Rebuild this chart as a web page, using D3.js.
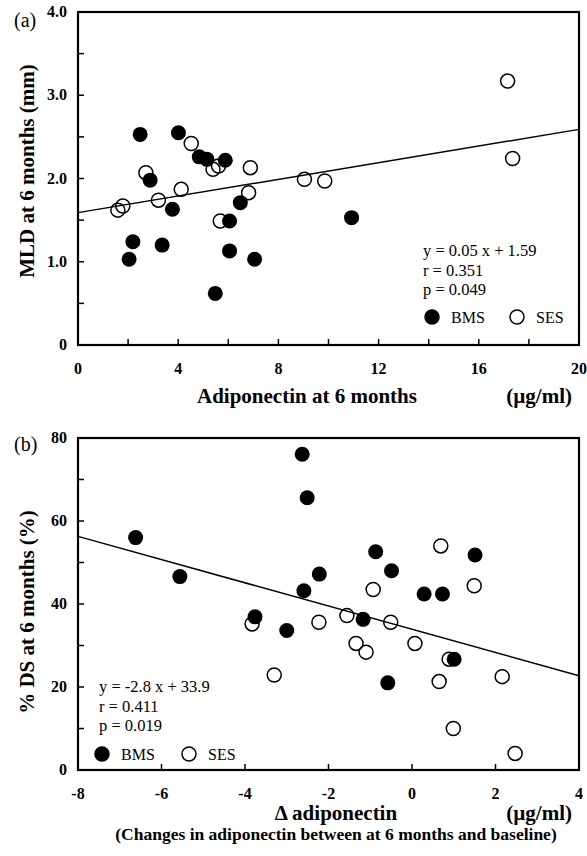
<!DOCTYPE html>
<html>
<head>
<meta charset="utf-8">
<script src="https://cdn.jsdelivr.net/npm/d3@7"></script>
<style>
  body { margin: 0; background: #fff; }
  svg { font-family: "Liberation Serif", "DejaVu Serif", serif; }
</style>
</head>
<body>
<div id="chart"></div>
<script>
// panel (a): adiponectin at 6 months vs MLD
var mldBms = [[2.48,2.53],[4.01,2.55],[2.88,1.98],[4.84,2.26],[5.15,2.23],[5.88,2.22],
  [3.77,1.63],[6.48,1.71],[6.05,1.49],[2.19,1.24],[2.04,1.03],[3.36,1.20],
  [6.05,1.13],[7.05,1.03],[5.48,0.62],[10.92,1.53]];
var mldSes = [[1.59,1.62],[1.79,1.67],[2.71,2.07],[3.21,1.74],[4.12,1.87],[4.52,2.42],
  [5.39,2.11],[5.61,2.15],[5.68,1.49],[6.81,1.83],[6.88,2.13],[9.04,1.99],
  [9.85,1.97],[17.15,3.17],[17.35,2.24]];
var mldFit = {slope: 0.05, intercept: 1.59};
var mldStats = ["y = 0.05 x + 1.59", "r = 0.351", "p = 0.049"];
var mldXTicks = [0, 4, 8, 12, 16, 20];
var mldYTicks = [0, 1, 2, 3, 4];

// panel (b): change in adiponectin vs %DS
var dsBms = [[-6.62,56.0],[-5.56,46.6],[-3.76,36.9],[-3.0,33.6],[-2.63,76.1],[-2.51,65.6],
  [-2.22,47.2],[-2.59,43.2],[-0.87,52.6],[-0.49,48.0],[-1.17,36.3],[0.29,42.4],
  [0.73,42.4],[1.51,51.8],[1.01,26.7],[-0.58,21.0]];
var dsSes = [[-3.83,35.2],[-3.30,22.9],[0.69,54.0],[1.49,44.4],[-0.93,43.5],[-1.56,37.2],
  [-2.23,35.6],[-0.51,35.6],[-1.34,30.5],[-1.10,28.4],[0.07,30.5],[0.89,26.7],
  [0.65,21.3],[2.16,22.5],[0.99,10.0],[2.47,4.0]];
var dsFit = {slope: -2.8, intercept: 33.9};
var dsStats = ["y = -2.8 x + 33.9", "r = 0.411", "p = 0.019"];
var dsXTicks = [-8, -6, -4, -2, 0, 2, 4];
var dsYTicks = [0, 20, 40, 60, 80];

var groups = ["BMS", "SES"];

var svg = d3.select("#chart").append("svg")
  .attr("width", 587)
  .attr("height", 856);

function drawPanel(o) {
  var x = d3.scaleLinear().domain(o.xDomain).range([78, 579]);
  var y = d3.scaleLinear().domain(o.yDomain).range(o.yRange);
  var g = svg.append("g");

  // inward ticks
  g.selectAll(".xt").data(o.xMinor).enter().append("line")
    .attr("x1", function(d){ return x(d) }).attr("x2", function(d){ return x(d) })
    .attr("y1", y.range()[0]).attr("y2", y.range()[0] - 6)
    .attr("stroke", "#000").attr("stroke-width", 1.5);
  g.selectAll(".yt").data(o.yMinor).enter().append("line")
    .attr("x1", x.range()[0]).attr("x2", x.range()[0] + 6)
    .attr("y1", function(d){ return y(d) }).attr("y2", function(d){ return y(d) })
    .attr("stroke", "#000").attr("stroke-width", 1.5);

  // tick labels
  g.selectAll(".xl").data(o.xTicks).enter().append("text")
    .attr("x", function(d){ return x(d) })
    .attr("y", y.range()[0] + 29)
    .attr("text-anchor", "middle")
    .style("font-size", "16px").style("font-weight", "bold")
    .text(function(d){ return d });
  g.selectAll(".yl").data(o.yTicks).enter().append("text")
    .attr("x", 67)
    .attr("y", function(d){ return y(d) + 5 })
    .attr("text-anchor", "end")
    .style("font-size", "16px").style("font-weight", "bold")
    .text(o.yFormat);

  // regression line
  g.append("line")
    .attr("x1", x(o.xDomain[0])).attr("y1", y(o.fit.slope * o.xDomain[0] + o.fit.intercept))
    .attr("x2", x(o.xDomain[1])).attr("y2", y(o.fit.slope * o.xDomain[1] + o.fit.intercept))
    .attr("stroke", "#000").attr("stroke-width", 1.5);

  // points
  g.selectAll(".ses").data(o.ses).enter().append("circle")
    .attr("cx", function(d){ return x(d[0]) })
    .attr("cy", function(d){ return y(d[1]) })
    .attr("r", 7)
    .attr("fill", "none").attr("stroke", "#000").attr("stroke-width", 1.5);
  g.selectAll(".bms").data(o.bms).enter().append("circle")
    .attr("cx", function(d){ return x(d[0]) })
    .attr("cy", function(d){ return y(d[1]) })
    .attr("r", 7.5)
    .attr("fill", "#000");

  // frame
  g.append("rect")
    .attr("x", x.range()[0]).attr("y", y.range()[1])
    .attr("width", x.range()[1] - x.range()[0])
    .attr("height", y.range()[0] - y.range()[1])
    .attr("fill", "none").attr("stroke", "#000").attr("stroke-width", 2.2);

  // stats text
  g.selectAll(".st").data(o.stats).enter().append("text")
    .attr("x", o.statX)
    .attr("y", function(d,i){ return o.statY + i*19.5 })
    .style("font-size", "16.5px")
    .text(function(d){ return d });

  // legend
  groups.forEach(function(k, i) {
    var cx = o.legX + i*o.legGap;
    g.append("circle")
      .attr("cx", cx).attr("cy", o.legY).attr("r", 7)
      .attr("fill", k == "BMS" ? "#000" : "none")
      .attr("stroke", "#000").attr("stroke-width", 1.5);
    g.append("text")
      .attr("x", cx + 19).attr("y", o.legY + 6)
      .style("font-size", "16px")
      .text(k);
  });

  // panel letter
  g.append("text")
    .attr("x", 14).attr("y", o.letterY)
    .style("font-size", "20px")
    .text(o.letter);

  // y title
  g.append("text")
    .attr("transform", "translate(34," + o.yTitleY + ") rotate(-90)")
    .attr("text-anchor", "middle")
    .style("font-size", "21px").style("font-weight", "bold")
    .text(o.yTitle);

  // x title + unit
  g.append("text")
    .attr("x", o.xTitleX).attr("y", y.range()[0] + o.xTitleDy)
    .attr("text-anchor", "middle")
    .style("font-size", "21px").style("font-weight", "bold")
    .text(o.xTitle);
  g.append("text")
    .attr("x", 572).attr("y", y.range()[0] + o.xTitleDy)
    .attr("text-anchor", "end")
    .style("font-size", "21px").style("font-weight", "bold")
    .text("(\u00b5g/ml)");
}

drawPanel({
  xDomain: [0, 20], yDomain: [0, 4], yRange: [345, 12],
  xTicks: mldXTicks, yTicks: mldYTicks,
  xMinor: d3.range(2, 20, 2), yMinor: d3.range(0.5, 4, 0.5),
  yFormat: function(d){ return d == 0 ? "0" : d3.format(".1f")(d) },
  bms: mldBms, ses: mldSes, fit: mldFit, stats: mldStats,
  statX: 423, statY: 256, legX: 432, legGap: 85, legY: 317,
  letter: "(a)", letterY: 27, yTitleY: 171,
  yTitle: "MLD at 6 months (mm)",
  xTitle: "Adiponectin at 6 months", xTitleX: 307, xTitleDy: 58
});

drawPanel({
  xDomain: [-8, 4], yDomain: [0, 80], yRange: [770, 438],
  xTicks: dsXTicks, yTicks: dsYTicks,
  xMinor: d3.range(-6, 4, 2), yMinor: d3.range(10, 80, 10),
  yFormat: function(d){ return d },
  bms: dsBms, ses: dsSes, fit: dsFit, stats: dsStats,
  statX: 99, statY: 692, legX: 102, legGap: 87, legY: 754,
  letter: "(b)", letterY: 451, yTitleY: 612,
  yTitle: "% DS at 6 months (%)",
  xTitle: "\u0394 adiponectin", xTitleX: 336, xTitleDy: 50
});

svg.append("text")
  .attr("x", 336).attr("y", 840)
  .attr("text-anchor", "middle")
  .style("font-size", "17.5px").style("font-weight", "bold")
  .text("(Changes in adiponectin between at 6 months and baseline)");
</script>
</body>
</html>
